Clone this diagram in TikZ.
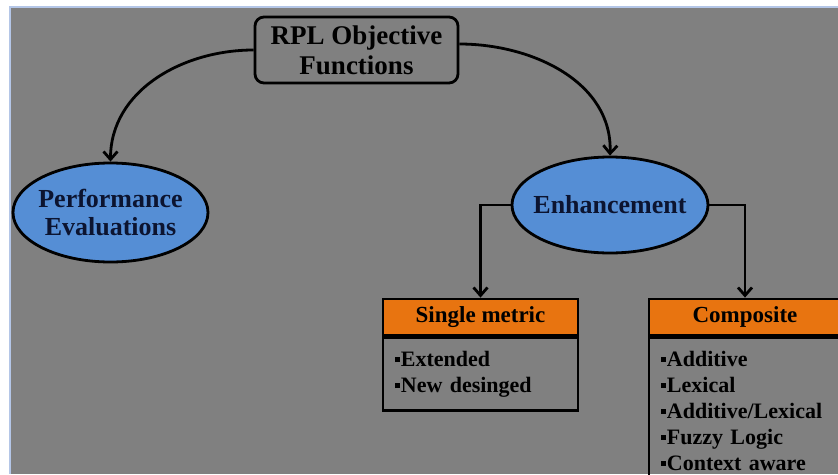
\documentclass[tikz,border=0pt]{standalone}
\usepackage{fontspec}
\setmainfont{Liberation Serif}
\usetikzlibrary{shapes.geometric,arrows.meta}

\definecolor{panelgray}{RGB}{128,128,128}
\definecolor{edgeblue}{RGB}{180,198,231}
\definecolor{ovalblue}{RGB}{85,142,213}
\definecolor{headorange}{RGB}{232,116,16}
\definecolor{inkblue}{RGB}{12,20,48}

% small square bullet for the list items
\newcommand\sqbul{\raisebox{0.2em}{\rule{0.21em}{0.21em}}\hspace{0.06em}}

\tikzset{
  outline/.style={draw=black, line width=2.8pt},
  rootbox/.style={outline, rounded corners=9pt, minimum width=203pt, minimum height=66pt,
    inner sep=0pt, align=center, font=\fontsize{27}{30}\selectfont\bfseries},
  oval/.style={outline, ellipse, fill=ovalblue, inner xsep=-30pt, inner ysep=-10pt,
    align=center, text=inkblue, font=\fontsize{26}{28}\selectfont\bfseries},
  headbox/.style={outline, fill=headorange, minimum height=36pt, inner sep=0pt,
    font=\fontsize{23}{26}\selectfont\bfseries},
  bodybox/.style={outline, anchor=north, inner xsep=12pt, inner ysep=0pt, align=left,
    font=\bfseries},
  link/.style={line width=2.8pt, -{Straight Barb[length=8pt,width=14pt]}},
}

\begin{document}
\begin{tikzpicture}[x=1pt, y=-1pt]
  % page frame
  \fill[white] (0,0) rectangle (838,474);
  \fill[edgeblue] (9,6) rectangle (838,474);
  \fill[panelgray] (11,8) rectangle (838,474);
  \useasboundingbox (0,0) rectangle (838,474);
  \clip (0,0) rectangle (838,474);

  % root and first level
  \node[rootbox] (root) at (356.5,50) {RPL Objective\\Functions};
  \node[oval, minimum width=195pt, minimum height=99pt] (perf) at (110.5,212.5)
    {Performance\\Evaluations};
  \node[oval, minimum width=196pt, minimum height=96pt] (enh) at (610,205)
    {Enhancement};

  % single metric box
  \node[headbox, minimum width=195pt] (shead) at (480.5,317) {Single metric};
  \node[bodybox, text width=171pt, minimum height=73pt,
        font=\fontsize{22}{26}\selectfont\bfseries] (sbody) at (shead.south)
    {\sqbul Extended\\\sqbul New desinged};

  % composite box
  \node[headbox, minimum width=192pt] (chead) at (745,317) {Composite};
  \node[bodybox, text width=168pt, minimum height=146pt,
        font=\fontsize{22}{26}\selectfont\bfseries] (cbody) at (chead.south)
    {\sqbul Additive\\\sqbul Lexical\\\sqbul Additive/Lexical\\\sqbul Fuzzy Logic\\\sqbul Context aware};

  % connectors
  \draw[link] (root.west) to[out=180, in=90] (perf.north);
  \draw[link] ([yshift=6pt]root.east) to[out=0, in=88] (enh.north);
  \draw[link] (enh.west) -| (shead.north);
  \draw[link] (enh.east) -| (chead.north);
\end{tikzpicture}
\end{document}
